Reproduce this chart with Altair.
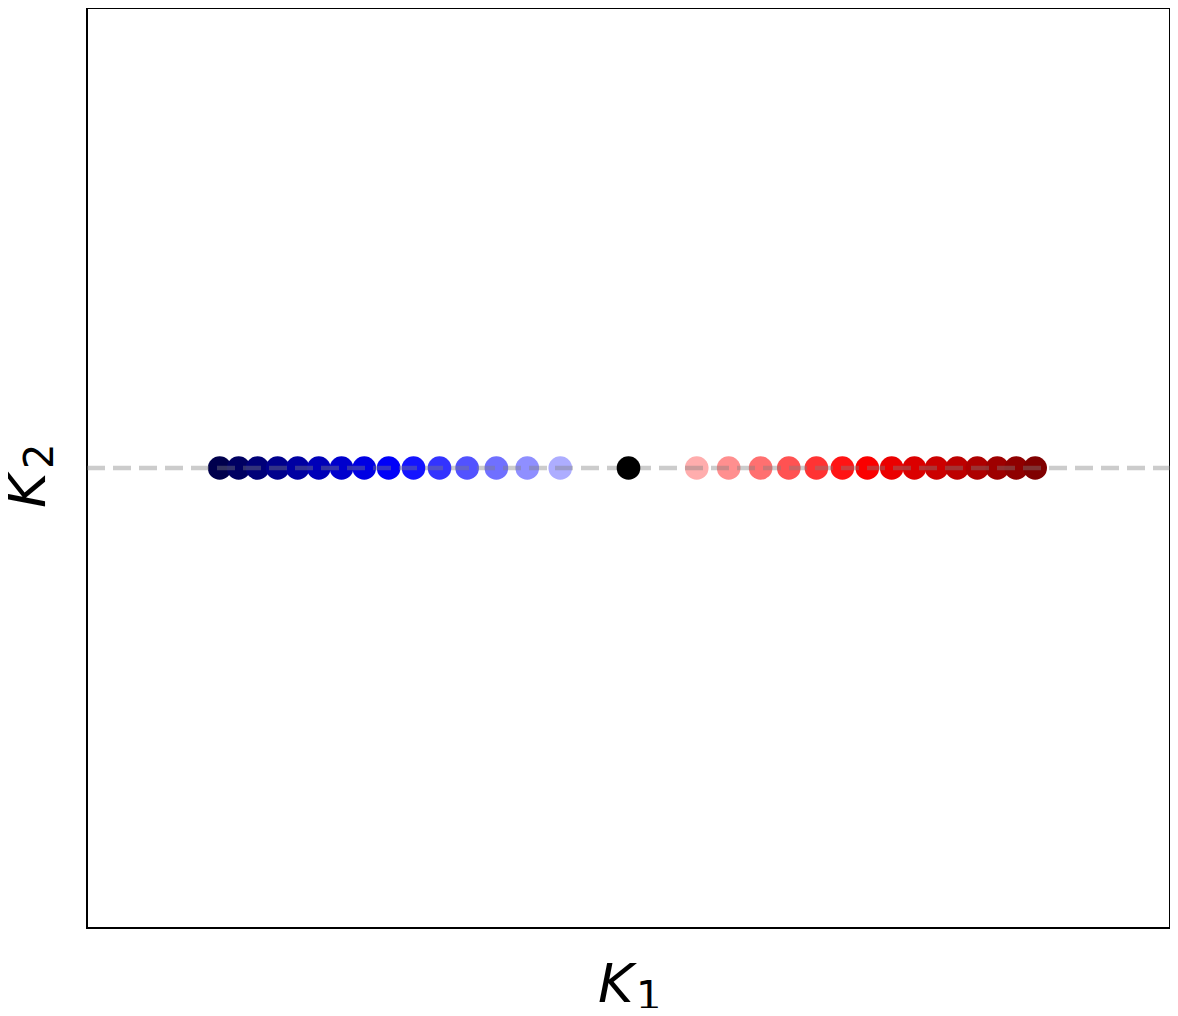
import altair as alt
import pandas as pd

# kappa_1 positions (axis units, domain [-1, 1])
kappa1_blue = [-0.755, -0.720, -0.685, -0.648, -0.611, -0.572, -0.530, -0.488,
               -0.443, -0.397, -0.349, -0.298, -0.244, -0.187, -0.126]
kappa1_red = [0.126, 0.185, 0.244, 0.296, 0.347, 0.395, 0.441, 0.486,
              0.528, 0.569, 0.607, 0.644, 0.681, 0.716, 0.751]
kappa1_center = [0.0]
kappa2_value = 0.0

# colour parameter on a seismic-like colormap
t_blue = [0.00, 0.03, 0.06, 0.09, 0.12, 0.15, 0.18, 0.21,
          0.24, 0.27, 0.30, 0.33, 0.36, 0.39, 0.42]
t_red = [0.58, 0.61, 0.64, 0.67, 0.70, 0.73, 0.76, 0.79,
         0.82, 0.85, 0.88, 0.91, 0.94, 0.97, 1.00]

cmap_domain = [0.0, 0.25, 0.5, 0.75, 1.0]
cmap_range = ["#00004d", "#0000ff", "#ffffff", "#ff0000", "#800000"]

W, H = 1083, 920

df = pd.DataFrame({
    "k1": kappa1_blue + kappa1_red,
    "k2": [kappa2_value] * (len(kappa1_blue) + len(kappa1_red)),
    "t": t_blue + t_red,
})
df_center = pd.DataFrame({"k1": kappa1_center, "k2": [kappa2_value]})
df_line = pd.DataFrame({"k1": [-1.0], "k1e": [1.0], "k2": [kappa2_value]})

xs = alt.Scale(domain=[-1, 1], nice=False, zero=False)
ys = alt.Scale(domain=[-1, 1], nice=False, zero=False)
X = alt.X("k1:Q", scale=xs, axis=None)
Y = alt.Y("k2:Q", scale=ys, axis=None)

DOT = 560

points = alt.Chart(df).mark_circle(size=DOT, opacity=1).encode(
    x=X, y=Y,
    color=alt.Color("t:Q", scale=alt.Scale(domain=cmap_domain, range=cmap_range,
                                           interpolate="rgb"), legend=None),
)

line = alt.Chart(df_line).mark_rule(
    color="gray", opacity=0.4, strokeWidth=4.5, strokeDash=[18, 8], strokeCap="butt"
).encode(x=X, x2="k1e:Q", y=Y)

center = alt.Chart(df_center).mark_circle(size=DOT, color="black", opacity=1).encode(x=X, y=Y)

font = "DejaVu Sans"
xK = alt.Chart(df_center).mark_text(text="K", font=font, fontStyle="italic", fontSize=54,
                                     align="left", baseline="alphabetic", color="black"
                                     ).encode(x=alt.value(511), y=alt.value(994))
x1 = alt.Chart(df_center).mark_text(text="1", font=font, fontSize=40,
                                     align="left", baseline="alphabetic", color="black"
                                     ).encode(x=alt.value(549), y=alt.value(1002))
yK = alt.Chart(df_center).mark_text(text="K", font=font, fontStyle="italic", fontSize=54,
                                     align="left", baseline="alphabetic", angle=270, color="black"
                                     ).encode(x=alt.value(-42), y=alt.value(500))
y2 = alt.Chart(df_center).mark_text(text="2", font=font, fontSize=40,
                                     align="left", baseline="alphabetic", angle=270, color="black"
                                     ).encode(x=alt.value(-34), y=alt.value(461))

chart = alt.layer(points, line, center, xK, x1, yK, y2).properties(
    width=W, height=H,
    autosize=alt.AutoSizeParams(type="none"),
    padding={"left": 79, "top": 0, "right": 0, "bottom": 80},
).configure_view(stroke="black", strokeWidth=2)

chart.save("out.html", embed_options={"renderer": "svg", "actions": False})
